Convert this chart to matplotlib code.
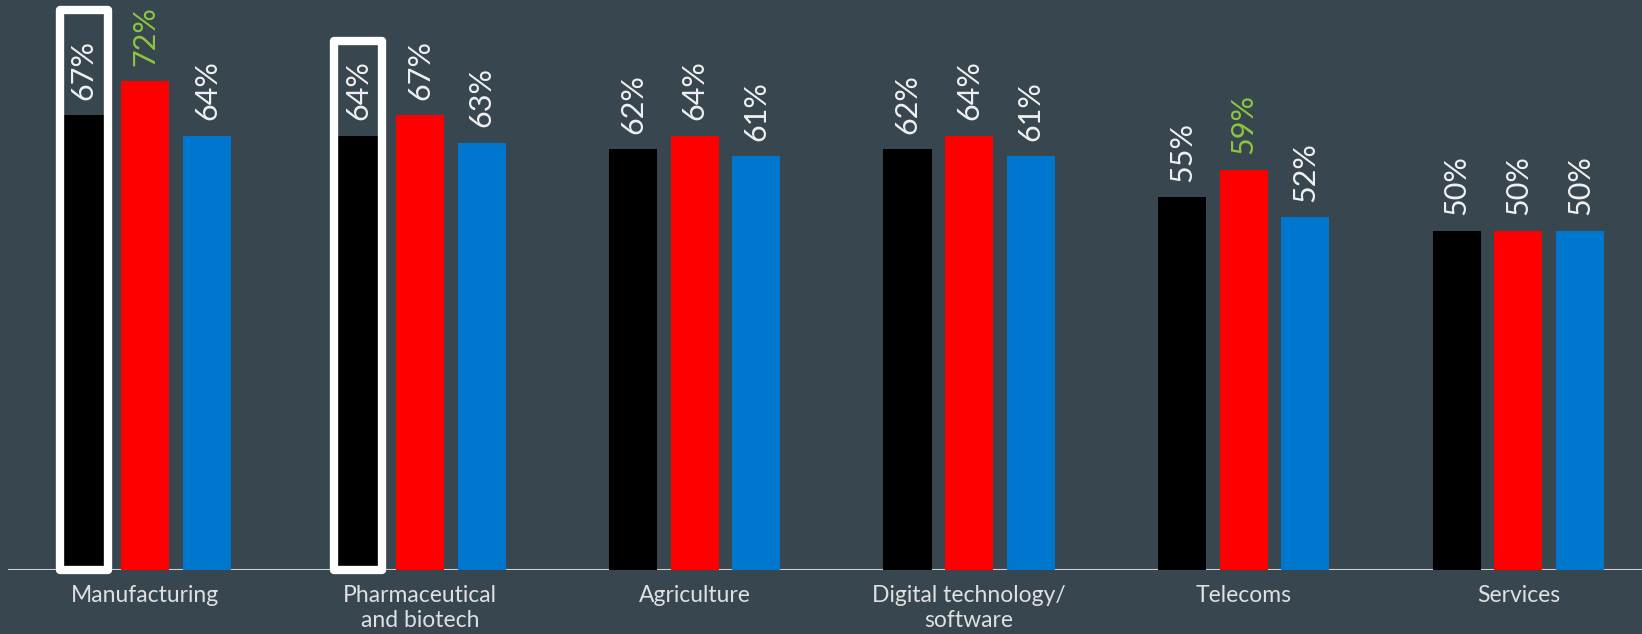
import matplotlib
matplotlib.use("Agg")
import matplotlib.pyplot as plt
from matplotlib.patches import Rectangle
import numpy as np

categories = ["Manufacturing", "Pharmaceutical\nand biotech", "Agriculture",
              "Digital technology/\nsoftware", "Telecoms", "Services"]
black_vals = [67, 64, 62, 62, 55, 50]
red_vals = [72, 67, 64, 64, 59, 50]
blue_vals = [64, 63, 61, 61, 52, 50]
green_labels = {("red", 0), ("red", 4)}
highlight_groups = [0, 1]
highlight_pad = [15.5, 14.0]

BG = "#37464f"
colors = {"black": "#000000", "red": "#ff0000", "blue": "#0077cf"}
GREEN = "#8cc63f"
TXT = "#f0f0f0"

fig = plt.figure(figsize=(16.42, 6.34), dpi=100, facecolor=BG)
ax = fig.add_axes([8 / 1642, 64 / 634, 1634 / 1642, 570 / 634])
ax.set_facecolor(BG)

x = np.arange(len(categories))
step = 0.2245
w = 0.175
series = [("black", black_vals, -step), ("red", red_vals, 0.0), ("blue", blue_vals, step)]

for name, vals, off in series:
    bars = ax.bar(x + off, vals, width=w, color=colors[name], zorder=2)
    for i, (b, v) in enumerate(zip(bars, vals)):
        col = GREEN if (name, i) in green_labels else TXT
        ax.annotate(f"{v}%", (b.get_x() + b.get_width() / 2, v),
                    xytext=(0, 11), textcoords="offset points",
                    rotation=90, ha="center", va="bottom",
                    fontsize=22, color=col, family="Lato", zorder=4)

for i, pad in zip(highlight_groups, highlight_pad):
    xc = x[i] - step
    top = black_vals[i] + pad
    r = Rectangle((xc - w / 2, 0), w, top, fill=False, ec="white", lw=6,
                  joinstyle="round", zorder=3, clip_on=False)
    ax.add_patch(r)

ax.axhline(0, color="#cfcfcf", lw=1.5, zorder=1)
ax.set_xlim(-0.5, 5.45)
ax.set_ylim(0, 84)
ax.set_xticks(x)
ax.set_xticklabels(categories, fontsize=16.5, color="#e0e0e0", family="Lato",
                   linespacing=1.2)
ax.tick_params(axis="x", length=0, pad=11)
ax.set_yticks([])
for s in ax.spines.values():
    s.set_visible(False)

fig.savefig("out.png", dpi=100, facecolor=BG)
